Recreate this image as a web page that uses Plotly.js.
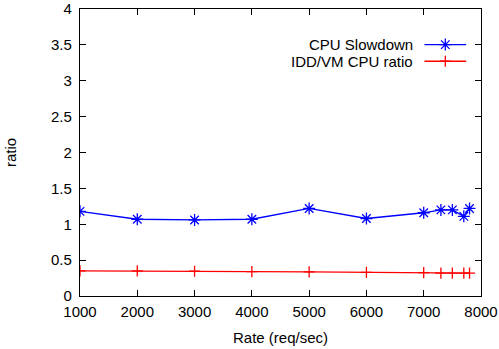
<!DOCTYPE html>
<html><head><meta charset="utf-8">
<script src="https://cdn.plot.ly/plotly-3.0.1.min.js"></script>
<style>html,body{margin:0;padding:0;background:#fff}#chart{width:499px;height:349px}</style>
</head><body><div id="chart"></div>
<script>
const rate = [1000, 2000, 3000, 4000, 5000, 6000, 7000, 7300, 7500, 7700, 7800];
const cpuSlowdown = [1.18, 1.07, 1.06, 1.07, 1.22, 1.08, 1.16, 1.20, 1.20, 1.11, 1.22];
const iddVmRatio = [0.35, 0.35, 0.345, 0.34, 0.335, 0.33, 0.325, 0.32, 0.32, 0.32, 0.32];
const seriesNames = ["CPU Slowdown", "IDD/VM CPU ratio"];
const xTicks = [1000, 2000, 3000, 4000, 5000, 6000, 7000, 8000];
const yTicks = [0, 0.5, 1, 1.5, 2, 2.5, 3, 3.5, 4];

const font = {family: "Liberation Sans, Arial, sans-serif", size: 15, color: "#000"};
const blue = "#0000ff", red = "#ff0000";
const starMarker = {symbol: "asterisk-open", size: 10, color: blue, line: {color: blue, width: 1.3}};
const plusMarker = {symbol: "cross-thin-open", size: 8, color: red, line: {color: red, width: 1.3}};
const leg1 = 0.876, leg2 = 0.818;

const traces = [
  {x: rate, y: cpuSlowdown, mode: "lines+markers", name: seriesNames[0], line: {color: blue, width: 1.3}, marker: starMarker},
  {x: rate, y: iddVmRatio, mode: "lines+markers", name: seriesNames[1], line: {color: red, width: 1.3}, marker: plusMarker},
  // legend samples
  {x: [0.859, 0.963], y: [leg1, leg1], xaxis: "x2", yaxis: "y2", mode: "lines", line: {color: blue, width: 1.3}, hoverinfo: "skip"},
  {x: [0.911], y: [leg1], xaxis: "x2", yaxis: "y2", mode: "markers", marker: starMarker, hoverinfo: "skip"},
  {x: [0.859, 0.963], y: [leg2, leg2], xaxis: "x2", yaxis: "y2", mode: "lines", line: {color: red, width: 1.3}, hoverinfo: "skip"},
  {x: [0.911], y: [leg2], xaxis: "x2", yaxis: "y2", mode: "markers", marker: plusMarker, hoverinfo: "skip"}
];

const axisCommon = {showgrid: false, zeroline: false, showline: true, mirror: "ticks", linecolor: "#000", linewidth: 1.2,
  ticks: "inside", ticklen: 6, tickcolor: "#000", tickwidth: 1, tickfont: font, ticklabeloverflow: "allow"};

const layout = {
  width: 499, height: 349, showlegend: false,
  margin: {l: 80, r: 18, t: 9, b: 53, pad: 0},
  paper_bgcolor: "#fff", plot_bgcolor: "#fff", font: font,
  xaxis: Object.assign({}, axisCommon, {range: [1000, 8000], tickvals: xTicks, ticktext: xTicks.map(String),
    ticklabelstandoff: 2, title: {text: "Rate (req/sec)", font: font, standoff: 13}, automargin: false}),
  yaxis: Object.assign({}, axisCommon, {range: [0, 4], tickvals: yTicks, ticktext: yTicks.map(String),
    ticklabelstandoff: 4, title: {text: "ratio", font: font, standoff: 30}, automargin: false}),
  xaxis2: {overlaying: "x", range: [0, 1], visible: false, fixedrange: true},
  yaxis2: {overlaying: "y", range: [0, 1], visible: false, fixedrange: true},
  annotations: [
    {xref: "paper", yref: "paper", x: 0.835, y: leg1, xanchor: "right", yanchor: "middle", text: seriesNames[0], showarrow: false, font: font},
    {xref: "paper", yref: "paper", x: 0.835, y: leg2, xanchor: "right", yanchor: "middle", text: seriesNames[1], showarrow: false, font: font}
  ]
};
Plotly.newPlot("chart", traces, layout, {displayModeBar: false, staticPlot: true});
</script></body></html>
